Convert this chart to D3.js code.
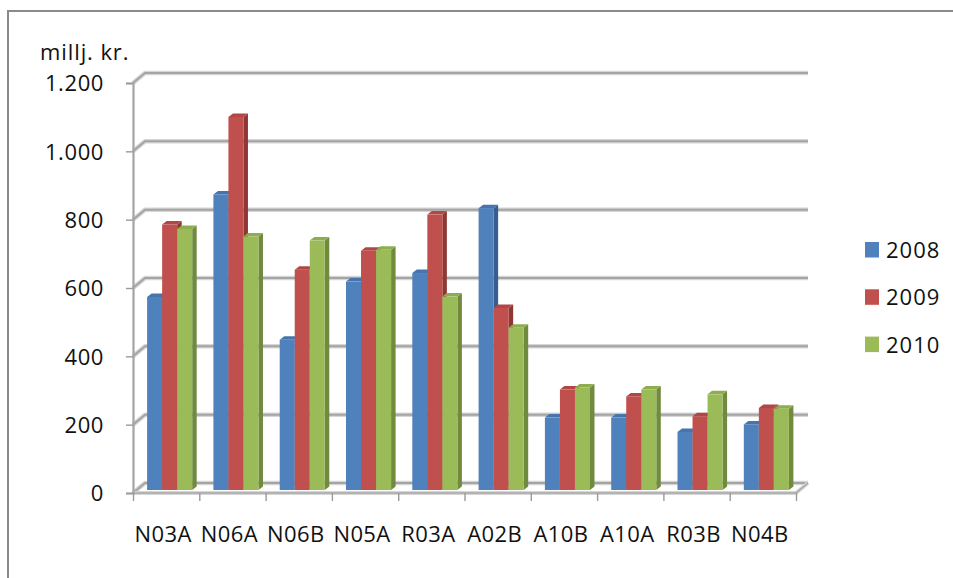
<!DOCTYPE html>
<html>
<head>
<meta charset="utf-8">
<script src="https://cdn.jsdelivr.net/npm/d3@7/dist/d3.min.js"></script>
<style>
  html, body { margin: 0; padding: 0; background: #fff; }
  svg { display: block; font-family: "Open Sans", "Noto Sans", sans-serif; }
</style>
</head>
<body>
<svg id="chart" width="953" height="578"></svg>
<script>
// ATC groups and yearly costs (millions of kroner)
const categories = ["N03A", "N06A", "N06B", "N05A", "R03A", "A02B", "A10B", "A10A", "R03B", "N04B"];
const years = ["2008", "2009", "2010"];
const values2008 = [565, 865, 440, 610, 635, 825, 212, 212, 170, 192];
const values2009 = [777, 1092, 645, 700, 806, 533, 294, 274, 216, 240];
const values2010 = [764, 742, 730, 703, 566, 475, 300, 294, 280, 238];
const yTicks = [0, 200, 400, 600, 800, 1000, 1200];
const unitLabel = "millj. kr.";

const seriesValues = [values2008, values2009, values2010];
const faceColors = ["#4F81BD", "#C0504D", "#9BBB59"];
const sideColors = ["#375E8E", "#8E3734", "#708A3E"];
const topColors  = ["#4675AE", "#B04744", "#8DAD4F"];

const svg = d3.select("#chart");

// outer frame of the chart area
svg.append("path")
  .attr("d", "M8,578 L8,11 L953,11")
  .attr("fill", "none").attr("stroke", "#8a8a8a").attr("stroke-width", 2);

// plot geometry: front plane and depth offset to the back wall
const x0 = 133, x1 = 796;
const wallDX = 12, wallDY = -10;

const y = d3.scaleLinear().domain([0, 1200]).range([493, 83]);
const xEdge = d3.scaleLinear().domain([0, categories.length]).range([x0, x1]);
const xBand = d3.scaleBand().domain(categories).range([x0, x1])
  .paddingInner(0.32).paddingOuter(0.16);
const xSeries = d3.scaleBand().domain(years).range([0, xBand.bandwidth()]);

// bars stand a little behind the front edge of the floor
const barDX = 3.5, barDY = -3;
const barDepthX = 4.5, barDepthY = -3.5;

const grid = svg.append("g").attr("fill", "none").attr("stroke-linejoin", "round");

// gridlines: short diagonal on the side wall, then across the back wall
yTicks.forEach(v => {
  const yf = y(v);
  const d = `M${x0},${yf} L${x0 + wallDX},${yf + wallDY} L${x1 + wallDX},${yf + wallDY}`;
  grid.append("path").attr("d", d).attr("stroke", "#d6d6d6").attr("stroke-width", 4.5);
  grid.append("path").attr("d", d).attr("stroke", "#a4a4a4").attr("stroke-width", 2);
});

// floor front and right edges
const floorPath = `M${x0},${y(0)} L${x1},${y(0)} L${x1 + wallDX},${y(0) + wallDY}`;
grid.append("path").attr("d", floorPath).attr("stroke", "#d6d6d6").attr("stroke-width", 4);
grid.append("path").attr("d", floorPath).attr("stroke", "#a8a8a8").attr("stroke-width", 1.6);

// vertical value axis with ticks
const fmt = d3.formatLocale({ decimal: ",", thousands: ".", grouping: [3], currency: ["", " kr."] }).format(",");
const yAxis = svg.append("g")
  .attr("transform", `translate(${x0},0)`)
  .call(d3.axisLeft(y).tickValues(yTicks).tickSize(7).tickPadding(22).tickFormat(fmt));
yAxis.select(".domain").attr("stroke", "#a4a4a4").attr("stroke-width", 2.2);
yAxis.selectAll(".tick line").attr("stroke", "#9a9a9a").attr("stroke-width", 1.4);
yAxis.selectAll(".tick text")
  .attr("font-size", 22).attr("fill", "#111")
  .attr("font-family", "'Open Sans', sans-serif")
  .attr("dy", "0.36em").attr("letter-spacing", 0.6);

// category boundary ticks below the floor
const xAxis = svg.append("g")
  .attr("transform", `translate(0,${y(0)})`)
  .call(d3.axisBottom(xEdge).tickValues(d3.range(categories.length + 1)).tickSize(8).tickFormat(""));
xAxis.select(".domain").remove();
xAxis.selectAll(".tick line").attr("stroke", "#9a9a9a").attr("stroke-width", 1.4);

// category labels
svg.append("g").selectAll("text")
  .data(categories).join("text")
  .attr("x", d => xBand(d) + xBand.bandwidth() / 2 - 3)
  .attr("y", 542)
  .attr("text-anchor", "middle")
  .attr("font-size", 22).attr("letter-spacing", 0.4).attr("fill", "#111")
  .text(d => d);

// 3D columns, drawn left to right so later faces cover earlier sides
const bars = svg.append("g");
categories.forEach((cat, ci) => {
  years.forEach((yr, si) => {
    const v = seriesValues[si][ci];
    const left = xBand(cat) + xSeries(yr) + barDX;
    const w = xSeries.bandwidth();
    const top = y(v) + barDY;
    const bottom = y(0) + barDY;
    const g = bars.append("g");
    // right side face
    g.append("path")
      .attr("d", `M${left + w},${bottom} L${left + w + barDepthX},${bottom + barDepthY} L${left + w + barDepthX},${top + barDepthY} L${left + w},${top} Z`)
      .attr("fill", sideColors[si]);
    // top face
    g.append("path")
      .attr("d", `M${left},${top} L${left + barDepthX},${top + barDepthY} L${left + w + barDepthX},${top + barDepthY} L${left + w},${top} Z`)
      .attr("fill", topColors[si]);
    // front face
    g.append("rect")
      .attr("x", left).attr("y", top)
      .attr("width", w).attr("height", bottom - top)
      .attr("fill", faceColors[si]);
  });
});

// axis unit
svg.append("text")
  .attr("x", 40).attr("y", 60)
  .attr("font-size", 22).attr("letter-spacing", 0.9).attr("fill", "#111")
  .text(unitLabel);

// legend
const legend = svg.append("g").attr("transform", "translate(865,242)");
years.forEach((yr, i) => {
  const row = legend.append("g").attr("transform", `translate(0,${i * 47.3})`);
  row.append("rect").attr("width", 14).attr("height", 15.5).attr("fill", faceColors[i]);
  row.append("text")
    .attr("x", 21).attr("y", 8).attr("dy", "0.36em")
    .attr("font-size", 22).attr("letter-spacing", 1).attr("fill", "#111")
    .text(yr);
});
</script>
</body>
</html>
